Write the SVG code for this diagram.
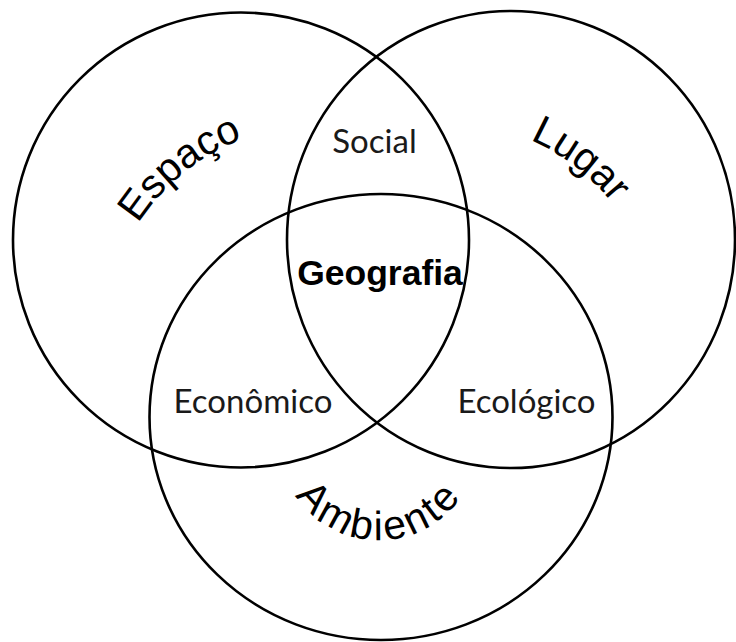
<svg xmlns="http://www.w3.org/2000/svg" xmlns:xlink="http://www.w3.org/1999/xlink" width="736" height="642" viewBox="0 0 736 642">
  <style>
    .ring { fill: none; stroke: #000; stroke-width: 2.6; }
    .arch { font-family: "Liberation Sans", Arial, sans-serif; font-size: 41px; fill: #000; }
    .zone { font-family: Lato, "Open Sans", sans-serif; font-size: 33px; fill: #1a1a1a; text-anchor: middle; }
    .core { font-family: "Liberation Sans", Arial, sans-serif; font-size: 35.5px; font-weight: bold; fill: #000; text-anchor: middle; }
  </style>
  <defs>
    <!-- baselines for the arched titles -->
    <path id="arc-espaco" d="M 108,299 A 215 215 0 0 1 322.75,125"/>
    <path id="arc-lugar" d="M 434.6,122.2 A 215 215 0 0 1 653.9,290.5"/>
    <path id="arc-ambiente" d="M 280.5,457.4 A 100 100 0 0 0 477.5,457.4"/>
  </defs>

  <g id="espaco">
    <ellipse class="ring" cx="241" cy="240" rx="228" ry="227.5"/>
    <text class="arch"><textPath xlink:href="#arc-espaco" href="#arc-espaco" startOffset="50%" text-anchor="middle">Espaço</textPath></text>
  </g>

  <g id="lugar">
    <ellipse class="ring" cx="511" cy="239.5" rx="224" ry="228.5"/>
    <text class="arch"><textPath xlink:href="#arc-lugar" href="#arc-lugar" startOffset="50%" text-anchor="middle">Lugar</textPath></text>
  </g>

  <g id="ambiente">
    <ellipse class="ring" cx="381" cy="417" rx="231.5" ry="223"/>
    <text class="arch" font-size="44" letter-spacing="3"><textPath xlink:href="#arc-ambiente" href="#arc-ambiente" startOffset="50%" text-anchor="middle">Ambiente</textPath></text>
  </g>

  <g id="social">
    <text class="zone" x="374.5" y="153">Social</text>
  </g>
  <g id="economico">
    <text class="zone" x="253" y="413">Econômico</text>
  </g>
  <g id="ecologico">
    <text class="zone" x="526.5" y="413">Ecológico</text>
  </g>
  <g id="geografia">
    <text class="core" x="380" y="285">Geografia</text>
  </g>
</svg>
